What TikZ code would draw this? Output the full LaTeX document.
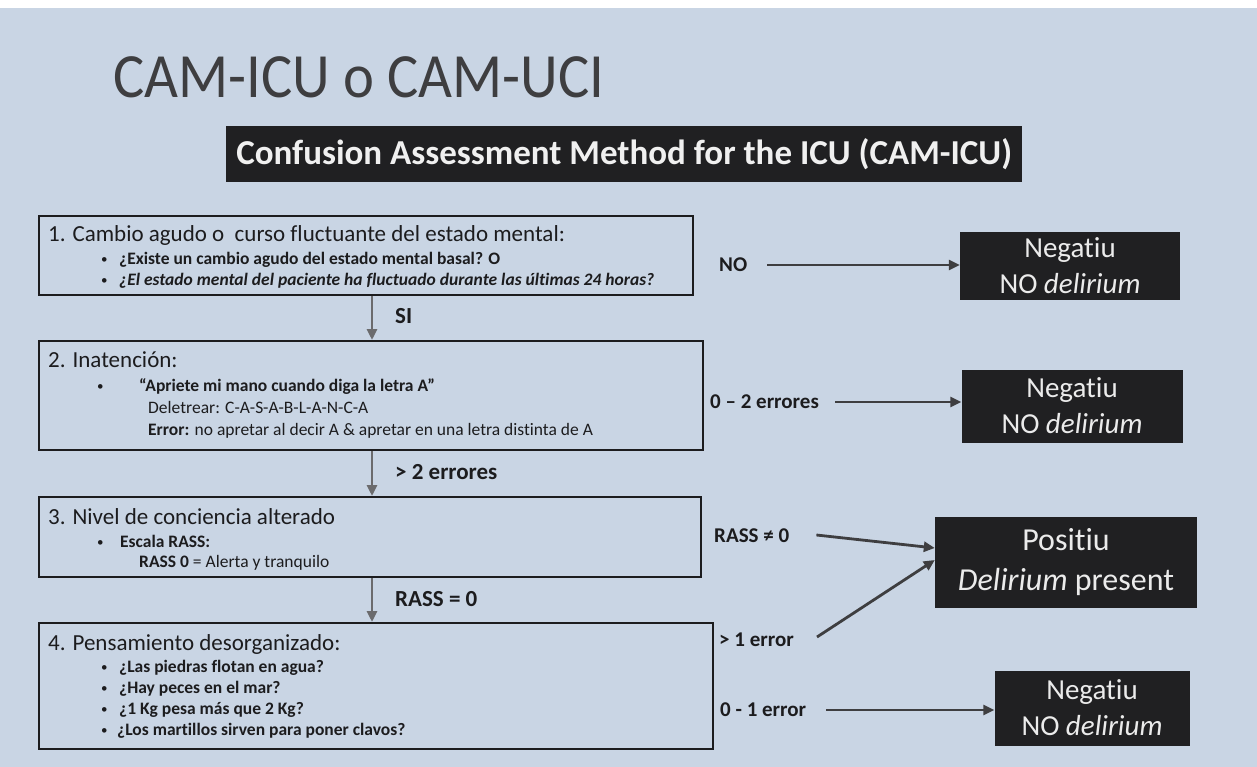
\documentclass[tikz,border=0pt]{standalone}
\usepackage{fontspec}
\setmainfont{Carlito}[Ligatures=NoCommon]
\newfontfamily\titlefont{Carlito}[FakeStretch=0.93]
\usetikzlibrary{arrows.meta}
\definecolor{bg}{RGB}{201,213,228}
\definecolor{ink}{RGB}{28,28,30}
\definecolor{ban}{RGB}{32,32,34}
\begin{document}
\begin{tikzpicture}[x=1pt,y=-1pt,
  stepbox/.style={draw=ink, line width=2.4pt, inner sep=0pt, anchor=north west},
  outbox/.style={fill=ban, text=white!92!black, inner sep=0pt, align=center, font=\fontsize{29}{36}\selectfont},
  head/.style={anchor=base west, inner sep=0pt, text=ink, font=\fontsize{23}{23}\selectfont},
  sub/.style={anchor=base west, inner sep=0pt, text=ink, font=\bfseries\fontsize{17.5}{17.5}\selectfont},
  subr/.style={sub, font=\fontsize{17.5}{17.5}\selectfont},
  dot/.style={anchor=base west, inner sep=0pt, text=ink, font=\fontsize{13}{13}\selectfont},
  lab/.style={anchor=west, inner sep=0pt, text=ink, font=\bfseries\fontsize{21}{21}\selectfont},
  vlab/.style={lab, font=\bfseries\fontsize{23}{23}\selectfont},
  arr/.style={line width=2.8pt, draw=ink!85, -{Triangle[length=11pt,width=10pt]}},
  varr/.style={line width=2.8pt, draw=ink!65, -{Triangle[length=11pt,width=10pt]}}
]
\useasboundingbox (0,0) rectangle (1257,767);
\fill[bg] (0,0) rectangle (1257,767);
\fill[white] (0,0) rectangle (1257,8);

% title and banner
\node[anchor=base west, inner sep=0pt, text=ink!85, font=\titlefont\fontsize{63}{63}\selectfont] (title) at (113,98) {CAM-ICU o CAM-UCI};
\node[fill=ban, text=white!94!black, inner sep=0pt, anchor=north west, minimum width=796pt, minimum height=56pt,
      font=\bfseries\fontsize{35}{35}\selectfont] (banner) at (226,126) {Confusion Assessment Method for the ICU (CAM-ICU)};

% step boxes
\node[stepbox, minimum width=654pt, minimum height=79pt] (b1) at (38,215) {};
\node[stepbox, minimum width=664pt, minimum height=109pt] (b2) at (38,340) {};
\node[stepbox, minimum width=662pt, minimum height=80pt] (b3) at (38,496) {};
\node[stepbox, minimum width=674pt, minimum height=126pt] (b4) at (38,622) {};

% box 1 text
\node[head] (h1) at (48,241) {1. Cambio agudo o\ \ curso fluctuante del estado mental:};
\node[dot] (d1a) at (101,263) {•};
\node[sub] (t1a) at (119,264) {¿Existe un cambio agudo del estado mental basal? O};
\node[dot] (d1b) at (101,284) {•};
\node[sub] (t1b) at (119,285) {\itshape ¿El estado mental del paciente ha fluctuado durante las últimas 24 horas?};

% box 2 text
\node[head] (h2) at (48,367) {2. Inatención:};
\node[dot] (d2a) at (97,390) {•};
\node[sub] (t2a) at (139,391) {“Apriete mi mano cuando diga la letra A”};
\node[subr] (t2b) at (148,413) {Deletrear: C-A-S-A-B-L-A-N-C-A};
\node[sub] (t2c) at (148,435) {Error: \mdseries no apretar al decir A \& apretar en una letra distinta de A};

% box 3 text
\node[head] (h3) at (48,524) {3. Nivel de conciencia alterado};
\node[dot] (d3a) at (97,546) {•};
\node[sub] (t3a) at (120,547) {Escala RASS:};
\node[sub] (t3b) at (139,567) {RASS 0 \mdseries = Alerta y tranquilo};

% box 4 text
\node[head] (h4) at (48,650) {4. Pensamiento desorganizado:};
\node[dot] (d4a) at (101,671) {•};
\node[sub] (t4a) at (119,672) {¿Las piedras flotan en agua?};
\node[dot] (d4b) at (101,692) {•};
\node[sub] (t4b) at (119,693) {¿Hay peces en el mar?};
\node[dot] (d4c) at (101,713) {•};
\node[sub] (t4c) at (119,714) {¿1 Kg pesa más que 2 Kg?};
\node[dot] (d4d) at (101,734) {•};
\node[sub] (t4d) at (117,735) {¿Los martillos sirven para poner clavos?};

% vertical arrows
\coordinate (axis) at (372,0);
\draw[varr] (b1.south -| axis) -- (b2.north -| axis);
\draw[varr] (b2.south -| axis) -- (b3.north -| axis);
\draw[varr] (b3.south -| axis) -- (b4.north -| axis);
\node[vlab] (lsi) at (395,316) {SI};
\node[vlab] (l2e) at (395,472) {> 2 errores};
\node[vlab] (lr0) at (395,599) {RASS = 0};

% outcome boxes
\node[outbox, minimum width=220pt, minimum height=68pt] (n1) at (1070,266) {Negatiu\\NO \textit{delirium}};
\node[outbox, minimum width=221pt, minimum height=73pt] (n2) at (1072,406) {Negatiu\\NO \textit{delirium}};
\node[outbox, minimum width=262pt, minimum height=91pt, font=\fontsize{32}{40}\selectfont] (pos) at (1066,562) {Positiu\\\textit{Delirium} present};
\node[outbox, minimum width=195pt, minimum height=75pt] (n3) at (1092,708) {Negatiu\\NO \textit{delirium}};

% right labels and arrows
\node[lab] (lno) at (719,265) {NO};
\node[lab] (l02) at (710,402) {0 – 2 errores};
\node[lab] (lrn) at (714,536) {RASS ≠ 0};
\node[lab] (lg1) at (719,640) {> 1 error};
\node[lab] (l01) at (720,710) {0 - 1 error};

\draw[arr] ([xshift=20pt]lno.east) -- (n1.west |- lno.east);
\draw[arr] ([xshift=16pt]l02.east) -- (n2.west |- l02.east);
\draw[arr] ([xshift=27pt,yshift=1pt]lrn.east) -- ([yshift=14pt]pos.west);
\draw[arr] ([xshift=23pt,yshift=3pt]lg1.east) -- ([yshift=2pt]pos.west);
\draw[arr] ([xshift=20pt]l01.east) -- (n3.west |- l01.east);
\end{tikzpicture}
\end{document}
